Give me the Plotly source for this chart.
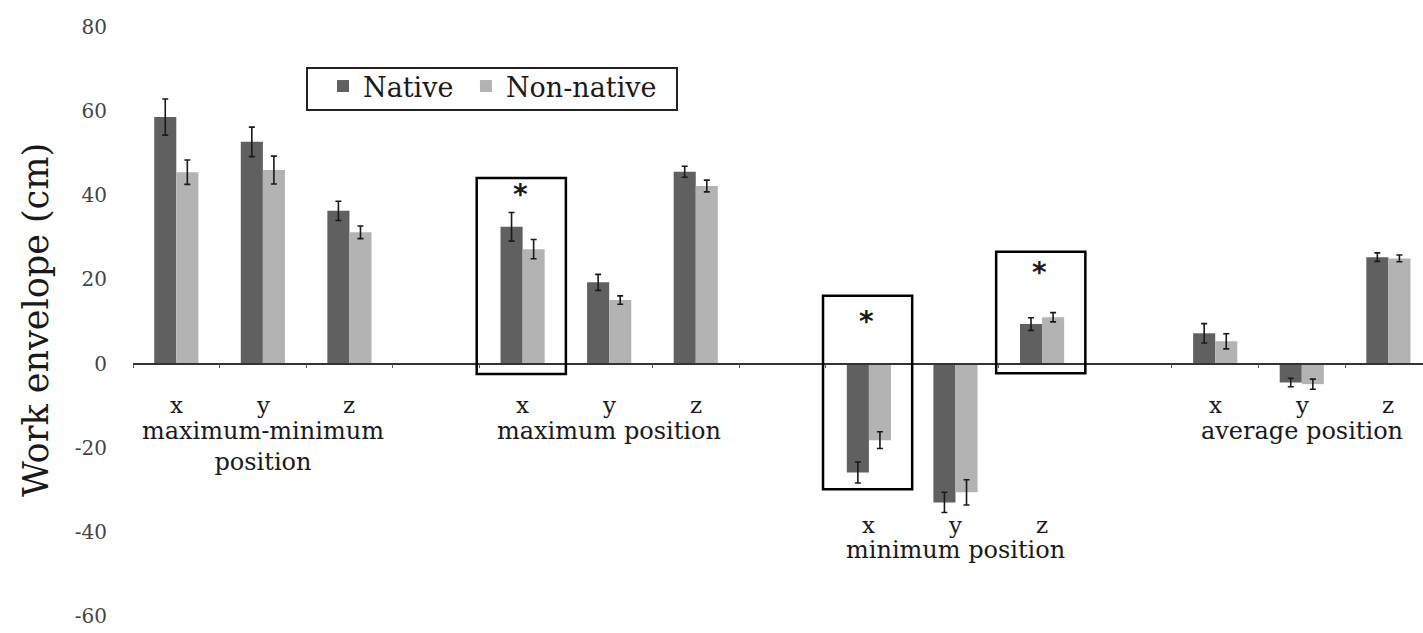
import plotly.graph_objects as go

# Work envelope measurements (cm), grouped by measure and axis
groups = ["maximum-minimum<br>position", "maximum position", "minimum position", "average position"]
axes_labels = ["x", "y", "z"]

native = [58.6, 52.7, 36.3,
          32.5, 19.3, 45.6,
          -25.9, -33.0, 9.4,
          7.2, -4.5, 25.3]
native_err = [4.3, 3.5, 2.3,
              3.4, 1.9, 1.3,
              2.5, 2.4, 1.5,
              2.3, 1.0, 1.0]
non_native = [45.5, 46.0, 31.2,
              27.2, 15.1, 42.2,
              -18.2, -30.6, 11.0,
              5.3, -4.9, 25.0]
non_native_err = [2.9, 3.3, 1.5,
                  2.3, 1.0, 1.4,
                  2.0, 3.0, 1.1,
                  1.8, 1.2, 0.8]

# pairs with a significant difference: (group index, axis index)
significant = [(1, 0), (2, 0), (2, 2)]

y_ticks = [-60, -40, -20, 0, 20, 40, 60, 80]

SLOTS_PER_GROUP = 4  # three axes plus one empty spacer slot
positions = [g * SLOTS_PER_GROUP + a for g in range(len(groups)) for a in range(len(axes_labels))]

Y_MIN, Y_MAX = -60, 80
SERIF = "DejaVu Serif"
INK = "#1a1a1a"

fig = go.Figure()
fig.add_trace(go.Bar(
    x=positions, y=native, name="Native", legend="legend",
    marker=dict(color="#606060", line=dict(width=0)),
    error_y=dict(type="data", array=native_err, color=INK, thickness=1.6, width=3),
))
fig.add_trace(go.Bar(
    x=positions, y=non_native, name="Non-native", legend="legend2",
    marker=dict(color="#b3b3b3", line=dict(width=0)),
    error_y=dict(type="data", array=non_native_err, color=INK, thickness=1.6, width=3),
))

annotations = []
# axis letters and group names under each group; the minimum group sits below its bars
for g, gname in enumerate(groups):
    if g == 2:
        letter_y, name_y = -38.4, -44.2
    else:
        letter_y, name_y = -9.8, -16.0
    if "<br>" in gname:
        name_y -= 3.8
    for a, lab in enumerate(axes_labels):
        annotations.append(dict(
            x=g * SLOTS_PER_GROUP + a, y=letter_y, xref="x", yref="y",
            text=lab, showarrow=False, yanchor="middle",
            font=dict(family=SERIF, size=23, color=INK),
        ))
    annotations.append(dict(
        x=g * SLOTS_PER_GROUP + 1, y=name_y, xref="x", yref="y",
        text=gname, showarrow=False, yanchor="middle",
        font=dict(family=SERIF, size=24, color=INK),
    ))

# frames around significant pairs: (bottom, top) in data units, plus star height
frame_spans = [(-2.5, 44.1), (-29.9, 16.1), (-2.3, 26.6)]
star_heights = [40.1, 10.0, 21.6]

shapes = []
for (g, a), (lo, hi), sy in zip(significant, frame_spans, star_heights):
    pos = g * SLOTS_PER_GROUP + a
    shapes.append(dict(
        type="rect", xref="x", yref="y",
        x0=pos - 0.53, x1=pos + 0.5, y0=lo, y1=hi,
        line=dict(color="black", width=2.5), fillcolor="rgba(0,0,0,0)",
    ))
    annotations.append(dict(
        x=pos - 0.03, y=sy, xref="x", yref="y", text="<b>*</b>", showarrow=False,
        yanchor="middle", font=dict(family="DejaVu Sans", size=28, color=INK),
    ))

# legend frame enclosing both legend entries
shapes.append(dict(
    type="rect", xref="paper", yref="paper",
    x0=0.1349, x1=0.4217, y0=0.8591, y1=0.9304,
    line=dict(color="#222", width=2), fillcolor="white", layer="below",
))

# vertical axis title
annotations.append(dict(
    x=-0.0752, y=0.5025, xref="paper", yref="paper", text="Work envelope (cm)",
    textangle=-90, showarrow=False, xanchor="center", yanchor="middle",
    font=dict(family=SERIF, size=35, color=INK),
))

legend_style = dict(
    orientation="h", y=0.9406, xanchor="left", yanchor="top",
    borderwidth=0, bgcolor="rgba(0,0,0,0)",
    font=dict(family=SERIF, size=27, color=INK), itemwidth=30,
)

fig.update_layout(
    width=1423, height=633,
    paper_bgcolor="white", plot_bgcolor="white",
    margin=dict(l=133, r=0, t=27, b=17),
    barmode="group", bargap=0.49, bargroupgap=0,
    showlegend=True,
    legend=dict(x=0.1473, **legend_style),
    legend2=dict(x=0.2581, **legend_style),
    xaxis=dict(
        range=[-0.5, 14.4], showgrid=False, zeroline=False,
        anchor="free", position=(0 - Y_MIN) / (Y_MAX - Y_MIN),
        showline=True, linecolor="#333", linewidth=1.5,
        tickvals=[p + 0.5 for p in range(-1, 15)], ticks="outside", ticklen=4,
        tickcolor="#555", showticklabels=False,
    ),
    yaxis=dict(
        range=[Y_MIN, Y_MAX], showgrid=False, zeroline=False, showline=False,
        tickvals=y_ticks, ticktext=[str(v) for v in y_ticks], ticks="",
        ticklabelstandoff=25,
        tickfont=dict(family=SERIF, size=20, color="#444"),
    ),
    annotations=annotations,
    shapes=shapes,
)

fig.write_html("out.html")
